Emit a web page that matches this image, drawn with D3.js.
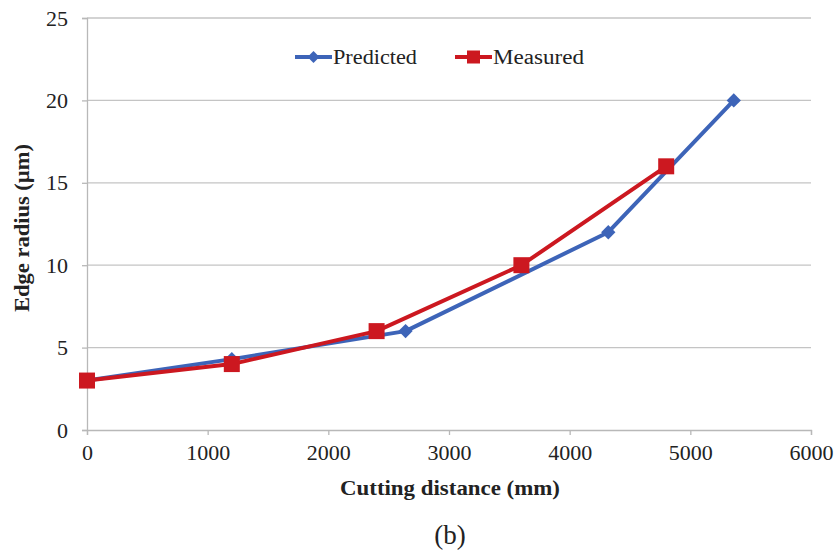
<!DOCTYPE html>
<html>
<head>
<meta charset="utf-8">
<script src="https://cdn.jsdelivr.net/npm/d3@7"></script>
<style>
  html, body { margin: 0; padding: 0; background: #fff; }
  svg { display: block; }
  text { font-family: "Liberation Serif", "Times New Roman", serif; fill: #222; }
</style>
</head>
<body>
<svg id="chart" width="839" height="551"></svg>
<script>
// Tool edge radius versus cutting distance
const predictedX = [0, 1200, 2640, 4320, 5360];
const predictedY = [3, 4.3, 6, 12, 20];
const measuredX = [0, 1200, 2400, 3600, 4800];
const measuredY = [3, 4, 6, 10, 16];
const xTicks = [0, 1000, 2000, 3000, 4000, 5000, 6000];
const yTicks = [0, 5, 10, 15, 20, 25];
const seriesNames = ["Predicted", "Measured"];

const svg = d3.select("#chart");
const plotLeft = 87, plotRight = 811, plotTop = 18, plotBottom = 430;

const x = d3.scaleLinear().domain([0, 6000]).range([plotLeft, plotRight]);
const y = d3.scaleLinear().domain([0, 25]).range([plotBottom, plotTop]);

const gridColor = "#c4c4c4";
const blue = "#3d64b8";
const red = "#cc1820";

// horizontal gridlines
svg.append("g").selectAll("line")
  .data(yTicks.filter(d => d > 0))
  .join("line")
  .attr("x1", plotLeft).attr("x2", plotRight)
  .attr("y1", d => y(d)).attr("y2", d => y(d))
  .attr("stroke", gridColor).attr("stroke-width", 1.3);

// axes
const xAxis = d3.axisBottom(x).tickValues(xTicks).tickSize(5).tickPadding(9).tickFormat(d3.format("d"));
const yAxis = d3.axisLeft(y).tickValues(yTicks).tickSize(5).tickPadding(14).tickFormat(d3.format("d"));

const gx = svg.append("g").attr("transform", `translate(0,${plotBottom})`).call(xAxis);
const gy = svg.append("g").attr("transform", `translate(${plotLeft},0)`).call(yAxis);
[gx, gy].forEach(g => {
  g.select(".domain").attr("stroke", "#b8b8b8").attr("stroke-width", 1.3);
  g.selectAll(".tick line").attr("stroke", "#b8b8b8").attr("stroke-width", 1.3);
  g.selectAll(".tick text").style("font-family", "'Liberation Serif', serif")
    .style("font-size", "22px").attr("fill", "#222");
});

// axis titles
svg.append("text")
  .attr("x", 450).attr("y", 495)
  .attr("text-anchor", "middle")
  .attr("textLength", 220).attr("lengthAdjust", "spacingAndGlyphs")
  .style("font-size", "20px").style("font-weight", "bold")
  .text("Cutting distance (mm)");

svg.append("text")
  .attr("transform", "translate(29,228) rotate(-90)")
  .attr("text-anchor", "middle")
  .attr("textLength", 168).attr("lengthAdjust", "spacingAndGlyphs")
  .style("font-size", "20px").style("font-weight", "bold")
  .text("Edge radius (µm)");

svg.append("text")
  .attr("x", 450).attr("y", 544)
  .attr("text-anchor", "middle")
  .style("font-size", "27px")
  .text("(b)");

// series
const line = d3.line().x(d => x(d[0])).y(d => y(d[1]));
const predicted = predictedX.map((v, i) => [v, predictedY[i]]);
const measured = measuredX.map((v, i) => [v, measuredY[i]]);

svg.append("path").datum(predicted)
  .attr("d", line).attr("fill", "none")
  .attr("stroke", blue).attr("stroke-width", 4).attr("stroke-linejoin", "round");

svg.append("g").selectAll("path")
  .data(predicted).join("path")
  .attr("transform", d => `translate(${x(d[0])},${y(d[1])})`)
  .attr("d", d3.symbol(d3.symbolDiamond2, 130)())
  .attr("fill", blue);

svg.append("path").datum(measured)
  .attr("d", line).attr("fill", "none")
  .attr("stroke", red).attr("stroke-width", 4).attr("stroke-linejoin", "round");

svg.append("g").selectAll("rect")
  .data(measured).join("rect")
  .attr("x", d => x(d[0]) - 8).attr("y", d => y(d[1]) - 8)
  .attr("width", 16).attr("height", 16)
  .attr("fill", red);

// legend
const legend = svg.append("g");
const lg = [
  { name: seriesNames[0], color: blue, x0: 295, marker: "diamond", w: 84 },
  { name: seriesNames[1], color: red, x0: 455, marker: "square", w: 91 }
];
lg.forEach(item => {
  const g = legend.append("g").attr("transform", `translate(${item.x0},57)`);
  g.append("line").attr("x1", 0).attr("x2", 37).attr("y1", 0).attr("y2", 0)
    .attr("stroke", item.color).attr("stroke-width", 4);
  if (item.marker === "diamond") {
    g.append("path").attr("transform", "translate(18.5,0)")
      .attr("d", d3.symbol(d3.symbolDiamond2, 90)()).attr("fill", item.color);
  } else {
    g.append("rect").attr("x", 12).attr("y", -6.5).attr("width", 13).attr("height", 13)
      .attr("fill", item.color);
  }
  g.append("text").attr("x", 38).attr("y", 7)
    .attr("textLength", item.w).attr("lengthAdjust", "spacingAndGlyphs")
    .style("font-size", "20px").text(item.name);
});
</script>
</body>
</html>
